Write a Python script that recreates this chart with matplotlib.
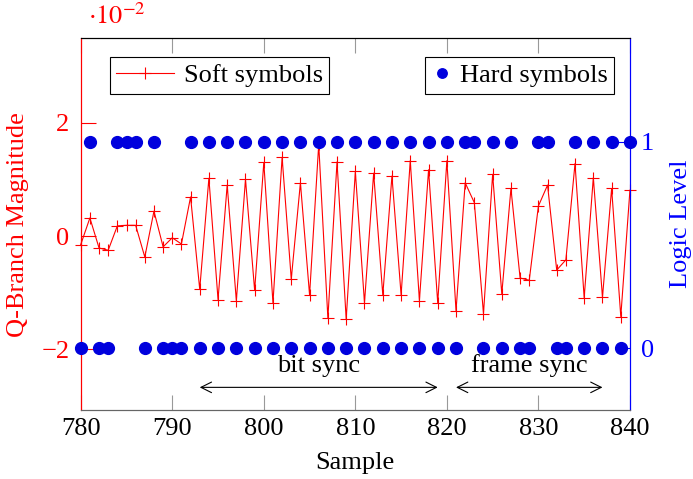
import numpy as np
import matplotlib
matplotlib.use('Agg')
import matplotlib.pyplot as plt

plt.rcParams['font.family'] = ['Liberation Serif', 'DejaVu Serif']
plt.rcParams['mathtext.fontset'] = 'stix'
plt.rcParams['font.size'] = 19

"""Data (soft values in units of 1e-2)"""
sample = np.arange(780, 841)
soft = [-0.15, 0.32, -0.21, -0.25, 0.18, 0.19, 0.19, -0.37, 0.44, -0.19,
        -0.03, -0.14, 0.69, -0.94, 1.02, -1.12, 0.90, -1.14, 1.00, -0.96,
        1.30, -1.18, 1.39, -0.76, 0.94, -1.04, 1.62, -1.45, 1.31, -1.47,
        1.14, -1.18, 1.11, -1.04, 1.06, -1.04, 1.33, -1.14, 1.17, -1.18,
        1.33, -1.32, 0.94, 0.59, -1.37, 1.09, -1.02, 0.84, -0.74, -0.78,
        0.53, 0.90, -0.60, -0.42, 1.28, -1.09, 1.03, -1.08, 0.84, -1.42,
        0.81]
hard = [0, 1, 0, 0, 1, 1, 1, 0, 1, 0,
        0, 0, 1, 0, 1, 0, 1, 0, 1, 0,
        1, 0, 1, 0, 1, 0, 1, 0, 1, 0,
        1, 0, 1, 0, 1, 0, 1, 0, 1, 0,
        1, 0, 1, 1, 0, 1, 0, 1, 0, 0,
        1, 1, 0, 0, 1, 0, 1, 0, 1, 0,
        1]
bit_sync = (793, 819)
frame_sync = (821, 837)

"""Figure"""
fig = plt.figure(figsize=(6.93, 4.79), dpi=100)
ax = fig.add_axes([0.1165, 0.144, 0.7925, 0.776])
ax2 = ax.twinx()

ax.plot(sample, soft, color='red', lw=0.8, marker='+', ms=8, mew=0.8,
        label='Soft symbols', clip_on=False, zorder=3)
ax2.plot(sample, hard, ls='none', marker='o', ms=8.5, color='#0000dd',
         label='Hard symbols', clip_on=False, zorder=3)

ax.set_xlim(780, 840)
ax.set_ylim(-3.07, 3.49)
ax2.set_ylim(-0.3, 1.5)
ax.set_xticks(np.arange(780, 841, 10))
ax.set_yticks([-2, 0, 2])
ax2.set_yticks([0, 1])

# spines
ax.spines['left'].set_color('red')
ax2.spines['left'].set_color('red')
ax2.spines['right'].set_color('blue')
ax.spines['right'].set_color('blue')
for a in (ax, ax2):
    a.spines['top'].set_color('black')
    a.spines['bottom'].set_color('#666666')

ax.tick_params(axis='x', direction='in', length=11, color='#999999',
               top=True, labelsize=19, pad=6)
ax.tick_params(axis='y', direction='in', length=11, color='red',
               labelcolor='red', labelsize=19, pad=8)
ax2.tick_params(axis='y', direction='in', length=11, color='blue',
                labelcolor='blue', labelsize=19, pad=8)

ax.set_xlabel('Sample', fontsize=19)
ax.xaxis.set_label_coords(0.5, -0.112)
ax.set_ylabel('Q-Branch Magnitude', color='red', fontsize=19)
ax.yaxis.set_label_coords(-0.094, 0.5)
ax2.set_ylabel('Logic Level', color='blue', fontsize=19)
ax2.yaxis.set_label_coords(1.073, 0.5)
ax.text(0.013, 1.025, r'$\cdot 10^{-2}$', transform=ax.transAxes,
        color='red', fontsize=19, ha='left', va='bottom')

# sync annotations
ya = -2.67
for (x0, x1), txt in ((bit_sync, 'bit sync'), (frame_sync, 'frame sync')):
    ax.annotate('', xy=(x0, ya), xytext=(x1, ya),
                arrowprops=dict(arrowstyle='<->,head_length=0.4,head_width=0.2',
                                lw=0.8, color='black', shrinkA=0, shrinkB=0))
    ax.text((x0 + x1) / 2, -2.40, txt, ha='center', va='baseline', fontsize=19)

leg1 = ax.legend(loc='upper left', bbox_to_anchor=(0.053, 0.95),
                 borderaxespad=0, fancybox=False, framealpha=1,
                 edgecolor='black', handlelength=2.2, handletextpad=0.35,
                 fontsize=19, borderpad=0.25)
leg1.get_frame().set_linewidth(0.8)
leg2 = ax2.legend(loc='upper right', bbox_to_anchor=(0.971, 0.95),
                  borderaxespad=0, fancybox=False, framealpha=1,
                  edgecolor='black', handlelength=0.8, handletextpad=0.25,
                  fontsize=19, borderpad=0.25, markerscale=0.8)
leg2.get_frame().set_linewidth(0.8)

fig.savefig('out.png', dpi=100)
